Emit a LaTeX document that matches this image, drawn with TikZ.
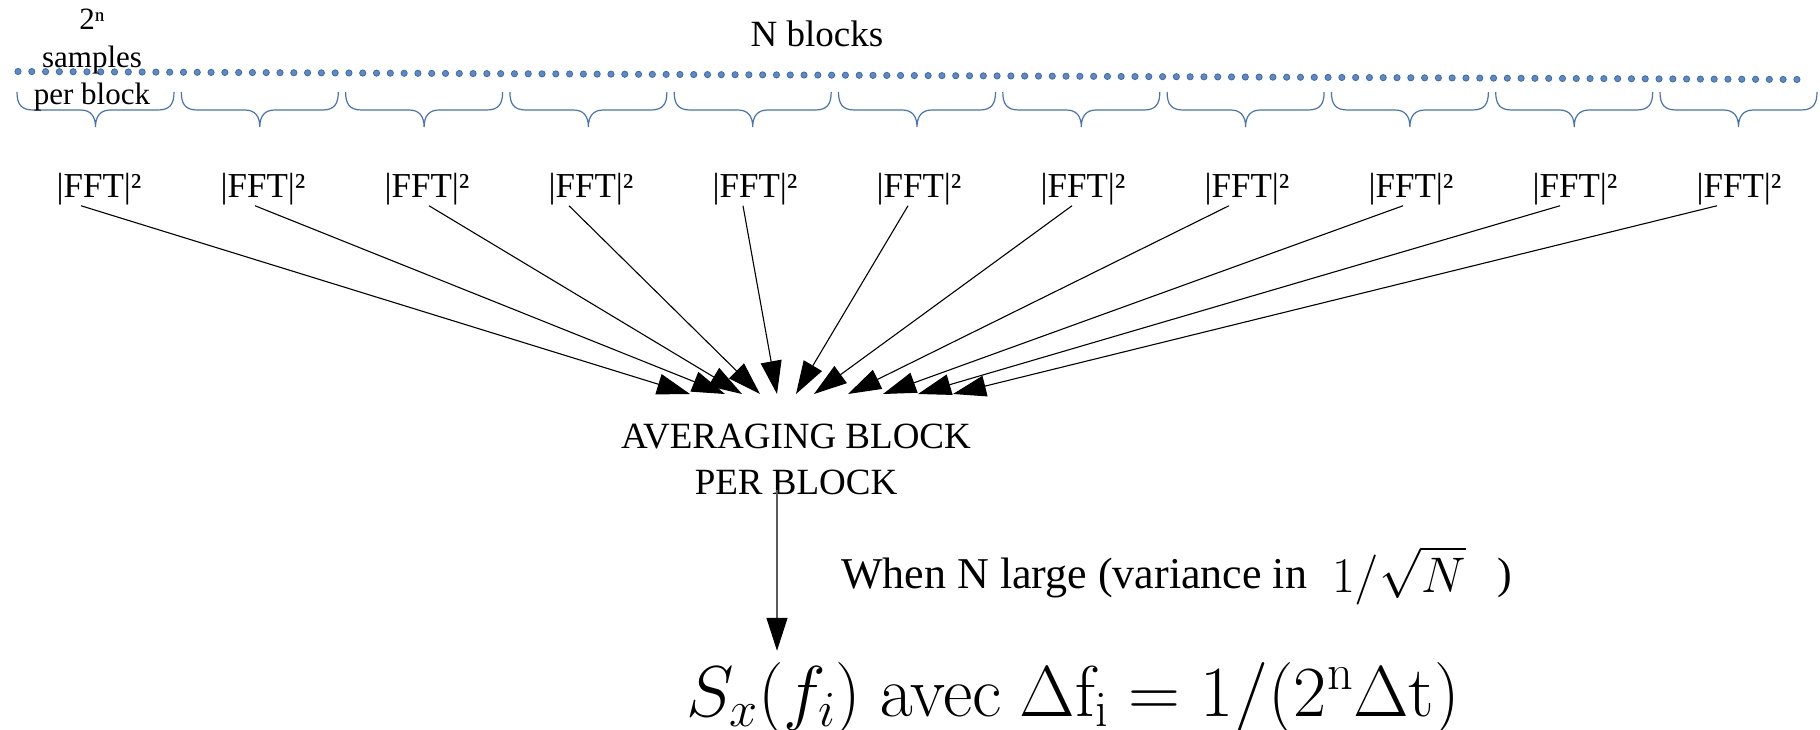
\RequirePackage{fix-cm}
\documentclass[tikz,border=0pt]{standalone}
\usepackage[no-math]{fontspec}
\setmainfont{Liberation Serif}
\usepackage{amsmath}
\usetikzlibrary{arrows.meta}
\usetikzlibrary{calc}
\definecolor{sampleblue}{RGB}{91,137,201}
\definecolor{sampleedge}{RGB}{62,106,170}
\definecolor{braceblue}{RGB}{70,114,190}

\begin{document}
\begin{tikzpicture}[x=1pt, y=-1pt,
		every node/.style={inner sep=0pt, text=black},
		fftlabel/.style={anchor=base, font=\fontsize{35}{42}\selectfont},
		flow/.style={black, line width=1.1pt, -{Triangle[length=33pt,width=21pt,black]}},
		sample/.style={fill=sampleblue, draw=sampleedge, line width=0.8pt},
		blockbrace/.style={braceblue, line width=1.2pt}]
				\useasboundingbox (0,0) rectangle (1820,730);
				
				% the sampled signal
				\foreach \k in {0,...,129}
					\filldraw[sample] ({18+13.79*\k},{71.5+8*\k/129}) circle (3.1);
				
				% one brace per block
				\foreach \b in {0,...,10}{
					\pgfmathsetmacro{\bx}{17+164.3*\b}
					\pgfmathsetmacro{\bm}{\bx+78.5}
					\pgfmathsetmacro{\be}{\bx+157}
					\draw[blockbrace] (\bx,92) .. controls (\bx,104) and (\bx+4,110) .. (\bx+16,110) -- (\bm-15,110) .. controls (\bm-5,110) and (\bm,116) .. (\bm,127) .. controls (\bm,116) and (\bm+5,110) .. (\bm+15,110) -- (\be-16,110) .. controls (\be-4,110) and (\be,104) .. (\be,92);
				}
				
				\node[anchor=north, align=center, font=\fontsize{31}{37.5}\selectfont] (perblock) at (92,9) {2ⁿ\\samples\\per block};
				\node[anchor=base, font=\fontsize{37}{44}\selectfont] (nblocks) at (817,47) {N blocks};
				
				\foreach \i in {1,...,11}
					\node[fftlabel] (fft\i) at ({99+164*(\i-1)},198) {|FFT|²};
				
				\node[align=center, font=\fontsize{37}{46}\selectfont] (avg) at (796,459) {AVERAGING BLOCK\\PER BLOCK};
				
				% arrows into the averaging block
				\foreach \i/\tx/\dx in {1/690/-18, 2/725/-8, 3/742/2, 4/760/-22, 5/777/-12, 6/796/-11, 7/814/-11, 8/848/-18, 9/883/-8, 10/918/-15, 11/953/-22}{
					\coordinate (tip\i) at (\tx,394);
					\draw[flow] ([xshift=\dx]fft\i.south) -- (tip\i);
				}
				
				\node[anchor=base west, font=\fontsize{44}{52}\selectfont] (note) at (841,588) {When N large (variance in\hspace{25pt}\raisebox{-4pt}{\fontsize{50}{60}\selectfont$1/\sqrt{N}$}\hspace{32pt})};
				\node[anchor=base west, font=\fontsize{72}{84}\selectfont] (res) at (686,716) {$S_x(f_i)\ \mathrm{avec}\ \Delta\mathrm{f}_{\mathrm{i}} = 1/(2^{\mathrm{n}}\Delta\mathrm{t})$};
				
				\draw[flow, draw=black!65, shorten >=11pt] ([xshift=-19,yshift=5]avg.south) coordinate (drop) -- (drop |- res.north);
\end{tikzpicture}
\end{document}
